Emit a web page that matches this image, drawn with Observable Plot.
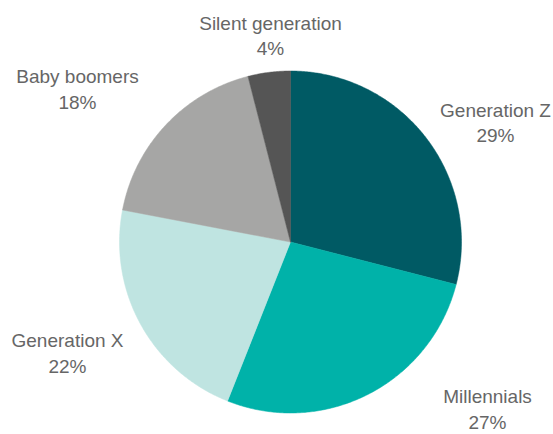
<!DOCTYPE html>
<html>
<head>
<meta charset="utf-8">
<script src="https://cdn.jsdelivr.net/npm/d3@7"></script>
<script src="https://cdn.jsdelivr.net/npm/@observablehq/plot@0.6"></script>
<style>
  html, body { margin: 0; padding: 0; background: #fff; }
  #chart svg { display: block; }
</style>
</head>
<body>
<div id="chart"></div>
<script>
// ---- data ----
const categories = ["Generation Z", "Millennials", "Generation X", "Baby boomers", "Silent generation"];
const shares = [29, 27, 22, 18, 4];
const colors = ["#005a64", "#00b2a9", "#bfe4e1", "#a6a6a5", "#555555"];

// ---- layout (pixels) ----
const W = 553, H = 434;
const cx = 290, cy = 241.5, R = 171;
// label anchor points (page pixels) — layout only
const labelPos = [
  [495, 121], [487, 407.5], [67, 351.5], [77, 87.5], [270, 34]
];

// ---- geometry from data ----
const pie = d3.pie().sort(null).value(d => d)(shares);
const slicePts = [];
pie.forEach((p, i) => {
  const key = categories[i];
  slicePts.push({key, x: 0, y: 0});
  const steps = Math.max(2, Math.ceil((p.endAngle - p.startAngle) / (Math.PI / 360)));
  for (let s = 0; s <= steps; s++) {
    const a = p.startAngle + (p.endAngle - p.startAngle) * s / steps;
    slicePts.push({key, x: R * Math.sin(a), y: R * Math.cos(a)});
  }
  slicePts.push({key, x: 0, y: 0});
});

const labels = categories.map((c, i) => ({
  text: `${c}\n${shares[i]}%`,
  x: labelPos[i][0] - cx,
  y: cy - labelPos[i][1]
}));

const chart = Plot.plot({
  width: W,
  height: H,
  margin: 0,
  x: {domain: [-cx, W - cx], axis: null},
  y: {domain: [cy - H, cy], axis: null},
  color: {domain: categories, range: colors},
  style: {background: "#fff"},
  marks: [
    Plot.line(slicePts, {x: "x", y: "y", z: "key", fill: "key", stroke: "key", strokeWidth: 0.5, curve: "linear"}),
    Plot.text(labels, {
      x: "x", y: "y", text: "text",
      fontSize: 19, lineHeight: 1.34,
      fontFamily: "Liberation Sans, Arial, sans-serif",
      fill: "#666666", textAnchor: "middle", lineAnchor: "middle"
    })
  ]
});
document.getElementById("chart").appendChild(chart);
</script>
</body>
</html>
